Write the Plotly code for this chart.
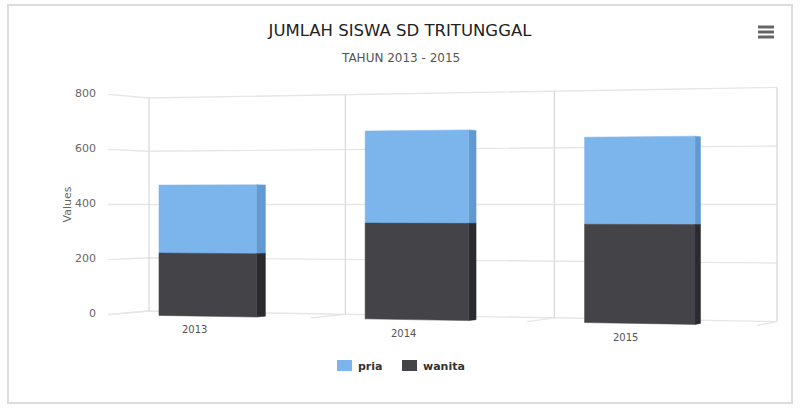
import plotly.graph_objects as go

years = ["2013", "2014", "2015"]
wanita = [225, 335, 333]
pria = [245, 322, 295]
value_ticks = [0, 200, 400, 600, 800]

BLUE = "#7cb5ec"
BLUE_SIDE = "#6199d1"
DARK = "#434348"
DARK_SIDE = "#2b2b2f"
GRID = "#e6e6e6"
GRID_V = "#dadada"
WIDTH, HEIGHT = 800, 409


def project(slot, depth, value):
    # tilted 3d box onto the page: slot 0..3 along the back wall, depth 0 back .. 1 front
    w = 1 - 0.03 * slot
    bx = 149 + 190.5 * slot / w
    by = 204.5 - (value / 800 - 0.5) * 213 / w
    s = 1 + 0.0334 * depth
    return bx + (bx - 1377) * (s - 1), 204.5 + (by - 204.5) * s


def polyline(points):
    xs, ys = zip(*[project(*p) for p in points])
    return list(xs), list(ys)


def add_line(fig, points, color):
    xs, ys = polyline(points)
    fig.add_trace(go.Scatter(x=xs, y=ys, mode="lines", line=dict(color=color, width=1.3),
                             hoverinfo="skip", showlegend=False))


def add_face(fig, points, color):
    xs, ys = polyline(points + points[:1])
    fig.add_trace(go.Scatter(x=xs, y=ys, mode="lines", fill="toself", fillcolor=color,
                             line=dict(color=color, width=0.5), hoverinfo="skip", showlegend=False))


def add_segment(fig, n, low, high, front, side):
    left, right = n + 0.257, n + 0.737
    add_face(fig, [(right, 1, low), (right, 0.75, low), (right, 0.75, high), (right, 1, high)], side)
    add_face(fig, [(left, 1, low), (right, 1, low), (right, 1, high), (left, 1, high)], front)


fig = go.Figure()

# walls and floor
for v in value_ticks:
    add_line(fig, [(0, 1, v), (0, 0, v), (3, 0, v)], GRID)
for slot in range(4):
    add_line(fig, [(slot, 1, 0), (slot, 0, 0)], GRID)
    add_line(fig, [(slot, 0, 0), (slot, 0, 800)], GRID_V)

# bars
for n in range(len(years)):
    add_segment(fig, n, wanita[n], wanita[n] + pria[n], BLUE, BLUE_SIDE)
    add_segment(fig, n, 0, wanita[n], DARK, DARK_SIDE)


def px_x(x):
    return x / WIDTH


def px_y(y):
    return 1 - y / HEIGHT


year_labels = []
for n, year in enumerate(years):
    lx, ly = project(n + 0.5, 1, 0)
    year_labels.append(dict(x=lx, y=ly, text=year, showarrow=False, xshift=-15 + 2 - n, yshift=-13 - n * 0.5,
                            font=dict(size=10, color="#555555")))

legend_items = [("pria", BLUE, 337, 356), ("wanita", DARK, 402, 421)]
legend_shapes = [
    dict(type="rect", xref="paper", yref="paper", x0=px_x(x0), x1=px_x(x0 + 15), y0=px_y(371), y1=px_y(360),
         fillcolor=color, line=dict(width=0))
    for _, color, x0, _ in legend_items
]
legend_text = [
    dict(text="<b>%s</b>" % name, xref="paper", yref="paper", x=px_x(tx), y=px_y(366), xanchor="left",
         yanchor="middle", showarrow=False, font=dict(size=11, color="#333333"))
    for name, _, _, tx in legend_items
]
menu_lines = [
    dict(type="line", xref="paper", yref="paper", x0=px_x(758), x1=px_x(774), y0=px_y(y), y1=px_y(y),
         line=dict(color="#666666", width=3))
    for y in [27, 32, 37]
]
frame = dict(type="rect", xref="paper", yref="paper", x0=px_x(8), x1=px_x(792), y0=px_y(403), y1=px_y(5),
             line=dict(color="#dcdcdc", width=2))

tick_y = [project(0, 1, v)[1] - 1 for v in value_ticks]

fig.update_layout(
    width=WIDTH,
    height=HEIGHT,
    margin=dict(l=0, r=0, t=0, b=0),
    paper_bgcolor="white",
    plot_bgcolor="white",
    showlegend=False,
    font=dict(family="DejaVu Sans", color="#666666"),
    title=dict(text="JUMLAH SISWA SD TRITUNGGAL", x=0.5, xanchor="center", y=px_y(30), yanchor="middle",
               font=dict(size=16.5, color="#222222")),
    xaxis=dict(domain=[104 / WIDTH, 1], range=[104, WIDTH], visible=False, fixedrange=True),
    yaxis=dict(range=[HEIGHT, 0], tickvals=tick_y, ticktext=[str(v) for v in value_ticks],
               tickfont=dict(size=11, color="#666666"), showgrid=False, zeroline=False, showline=False,
               ticks="", ticklabelstandoff=7, fixedrange=True,
               title=dict(text="Values", font=dict(size=11, color="#666666"), standoff=1)),
    annotations=[
        dict(text="TAHUN 2013 - 2015", xref="paper", yref="paper", x=0.5, y=px_y(58), yanchor="middle",
             showarrow=False, font=dict(size=12, color="#555555")),
    ] + year_labels + legend_text,
    shapes=[frame] + menu_lines + legend_shapes,
)

fig.write_html("out.html", config=dict(displayModeBar=False),
               post_script="document.body.style.margin='0';document.body.style.overflow='hidden';")
